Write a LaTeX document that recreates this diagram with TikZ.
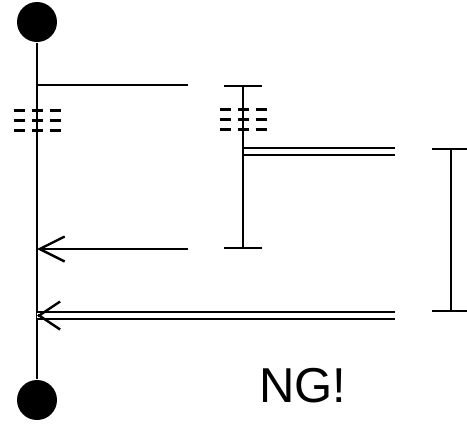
\documentclass[tikz,border=0pt]{standalone}
\usepackage{fontspec}
\setmainfont{Liberation Sans}
\usetikzlibrary{arrows.meta}

\begin{document}
\begin{tikzpicture}[x=1pt, y=-1pt, line width=2.4pt,
  dot/.style={circle, fill=black, minimum size=40pt, inner sep=0pt},
  gaps/.style={line width=3pt, dash pattern=on 11pt off 7pt},
  twin/.style={double, double distance=4.6pt},
  barb/.style={-{Straight Barb[length=25pt, width=25pt, line width=2.4pt]}},
  span/.style={{Bar[width=38pt]}-{Bar[width=38pt]}}]
  \useasboundingbox (0,0) rectangle (467,426);
  \node[dot] (top) at (37,22) {};
  \node[dot] (bot) at (37,400) {};
  \draw (top) -- (bot);
  \coordinate (a0) at (37,85);
  \coordinate (a1) at (188,85);
  \draw (a0) -- (a1);
  \foreach \y in {110,120,130}
    \draw[gaps] (13.5,\y) -- (60.5,\y);
  \coordinate (b0) at (243,85);
  \coordinate (b1) at (243,249);
  \draw[span] (b0) -- (b1);
  \foreach \y in {109,119,129}
    \draw[gaps] (219.5,\y) -- (266.5,\y);
  \coordinate (c0) at (244,151.5);
  \coordinate (c1) at (395,151.5);
  \draw[twin] (c0) -- (c1);
  \coordinate (d0) at (37,249);
  \coordinate (d1) at (188,249);
  \draw[barb] (d1) -- (d0);
  \coordinate (e0) at (37,315.5);
  \coordinate (e1) at (395,315.5);
  \draw[twin] (e1) -- (e0);
  \draw[-{Straight Barb[length=21pt, width=28pt, line width=2.4pt]}] ([xshift=1pt]e0) -- (e0);
  \coordinate (f0) at (451,148);
  \coordinate (f1) at (451,312);
  \draw[span] (f0) -- (f1);
  \node[font=\fontsize{49}{49}\selectfont] (ng) at (303,386) {NG!};
\end{tikzpicture}
\end{document}
